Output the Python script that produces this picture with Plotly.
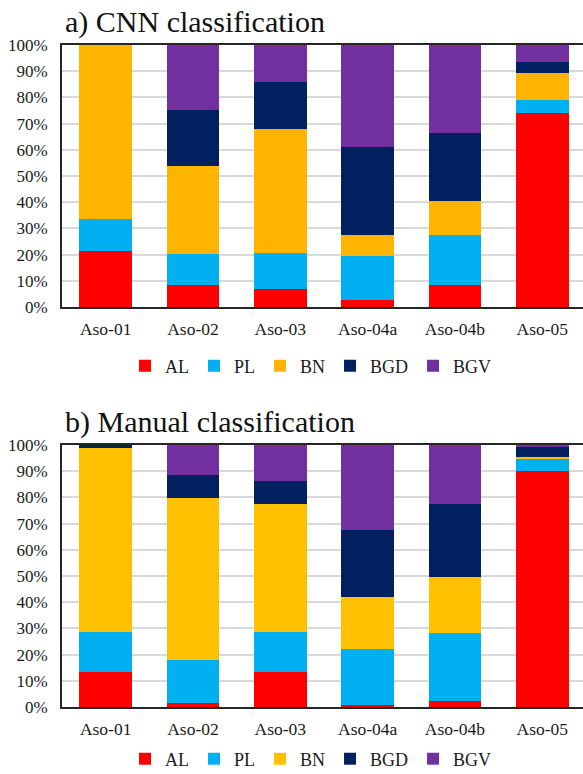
import plotly.graph_objects as go

categories = ["Aso-01", "Aso-02", "Aso-03", "Aso-04a", "Aso-04b", "Aso-05"]
classes = ["AL", "PL", "BN", "BGD", "BGV"]

cnn_AL = [21.5, 8.5, 6.9, 2.7, 8.5, 74.0]
cnn_PL = [12.0, 11.7, 13.9, 16.6, 18.9, 5.2]
cnn_BN = [66.5, 33.5, 47.2, 8.3, 13.1, 10.3]
cnn_BGD = [0.0, 21.4, 17.8, 33.4, 26.1, 4.0]
cnn_BGV = [0.0, 24.9, 14.2, 39.0, 33.4, 6.5]

man_AL = [13.3, 1.7, 13.2, 0.9, 2.4, 90.1]
man_PL = [15.5, 16.2, 15.3, 21.1, 25.9, 4.7]
man_BN = [70.2, 62.0, 48.9, 20.1, 21.5, 0.8]
man_BGD = [1.0, 8.5, 9.0, 25.5, 27.8, 3.6]
man_BGV = [0.0, 11.6, 13.6, 32.4, 22.4, 0.8]

colors_top = ["#FF0000", "#00B0F0", "#FFB400", "#002060", "#7030A0"]
colors_bot = ["#FF0000", "#00B0F0", "#FFC000", "#002060", "#7030A0"]

W, H = 583, 774
L = 62
FONT = "Liberation Serif"

fig = go.Figure()

cnn = [cnn_AL, cnn_PL, cnn_BN, cnn_BGD, cnn_BGV]
man = [man_AL, man_PL, man_BN, man_BGD, man_BGV]

for name, vals, col in zip(classes, cnn, colors_top):
    fig.add_trace(go.Bar(x=categories, y=vals, name=name, marker_color=col,
                         marker_line_width=0, xaxis="x", yaxis="y",
                         legend="legend"))
for name, vals, col in zip(classes, man, colors_bot):
    fig.add_trace(go.Bar(x=categories, y=vals, name=name, marker_color=col,
                         marker_line_width=0, xaxis="x2", yaxis="y2",
                         legend="legend2"))

def py(p):
    return 1 - p / H

def px(p):
    return (p - L) / (W - L)

top_dom = [py(307), py(45)]
bot_dom = [py(707), py(445)]

xcommon = dict(
    showline=True, linecolor="#262626", linewidth=2, mirror=True,
    showgrid=False, range=[-0.5, 5.466], ticks="", ticklabelstandoff=5,
    tickfont=dict(family=FONT, size=17.5, color="#1a1a1a"),
)
ycommon = dict(
    showline=True, linecolor="#262626", linewidth=2,
    range=[0, 100], dtick=10, ticksuffix="%",
    showgrid=True, gridcolor="#d9d9d9", gridwidth=1.5,
    ticks="", ticklabelstandoff=9, zeroline=False,
    tickfont=dict(family=FONT, size=17, color="#1a1a1a"),
)

legend_common = dict(
    orientation="h", xref="paper", yref="paper",
    xanchor="left", yanchor="middle",
    font=dict(family=FONT, size=18, color="#1a1a1a"),
    bgcolor="rgba(0,0,0,0)", traceorder="normal",
    itemwidth=30,
)

fig.update_layout(
    width=W, height=H,
    margin=dict(l=L, r=0, t=0, b=0, autoexpand=False),
    barmode="stack", bargap=0.4,
    plot_bgcolor="white", paper_bgcolor="white",
    font=dict(family=FONT, color="#1a1a1a"),
    xaxis=dict(**xcommon, domain=[0, 1], anchor="y"),
    yaxis=dict(**ycommon, domain=top_dom, anchor="x"),
    xaxis2=dict(**xcommon, domain=[0, 1], anchor="y2"),
    yaxis2=dict(**ycommon, domain=bot_dom, anchor="x2"),
    legend=dict(**legend_common, x=px(125), y=py(366)),
    legend2=dict(**legend_common, x=px(125), y=py(759)),
    annotations=[
        dict(text="a) CNN classification", xref="paper", yref="paper",
             x=px(63), y=py(22), xanchor="left", yanchor="middle",
             showarrow=False, font=dict(family=FONT, size=30, color="#111111")),
        dict(text="b) Manual classification", xref="paper", yref="paper",
             x=px(63), y=py(422), xanchor="left", yanchor="middle",
             showarrow=False, font=dict(family=FONT, size=30, color="#111111")),
    ],
)

fig.write_html("out.html")
